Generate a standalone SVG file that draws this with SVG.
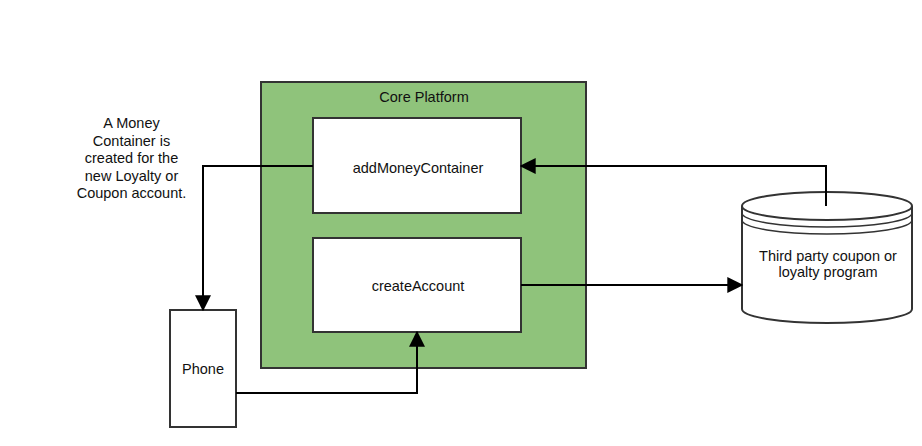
<svg xmlns="http://www.w3.org/2000/svg" width="922" height="446" viewBox="0 0 922 446">
<defs>
<style>
text{font-family:"Liberation Sans",Arial,sans-serif;font-size:14.5px;fill:#111;text-anchor:middle}
.box{fill:#fff;stroke:#333;stroke-width:2}
.edge{fill:none;stroke:#000;stroke-width:2}
</style>
<marker id="arrL" viewBox="0 0 12 12" refX="11" refY="6" markerWidth="16" markerHeight="16" orient="auto" markerUnits="userSpaceOnUse">
<path d="M0,0 L12,6 L0,12 z" fill="#000"/>
</marker>
</defs>
<rect width="922" height="446" fill="#fff"/>
<g id="core-platform">
<rect x="261" y="82" width="325" height="286" fill="#8fc37b" stroke="#333" stroke-width="2"/>
<text x="424" y="102">Core Platform</text>
</g>
<g id="addMoneyContainer">
<rect class="box" x="313" y="118" width="208" height="95"/>
<text x="418" y="173">addMoneyContainer</text>
</g>
<g id="createAccount">
<rect class="box" x="313" y="238" width="208" height="94"/>
<text x="418" y="291">createAccount</text>
</g>
<g id="phone">
<rect class="box" x="170" y="310" width="66" height="117"/>
<text x="203" y="374">Phone</text>
</g>
<g id="third-party">
<path d="M742,206 L742,309 A85,14 0 0 0 912,309 L912,206" fill="#fff" stroke="#333" stroke-width="2"/>
<ellipse cx="827" cy="206" rx="85" ry="14" fill="#fff" stroke="#333" stroke-width="2"/>
<path d="M742,213 A85,14 0 0 0 912,213" fill="none" stroke="#333" stroke-width="1.5"/>
<path d="M742,220 A85,14 0 0 0 912,220" fill="none" stroke="#333" stroke-width="1.5"/>
<text x="828" y="261">Third party coupon or</text>
<text x="828" y="277">loyalty program</text>
</g>
<g id="note">
<text x="131.5" y="128">A Money</text>
<text x="131.5" y="145.5">Container is</text>
<text x="131.5" y="163">created for the</text>
<text x="131.5" y="180.5">new Loyalty or</text>
<text x="131.5" y="198">Coupon account.</text>
</g>
<g id="connectors">
<path class="edge" d="M313,166 L203,166 L203,310" marker-end="url(#arrL)"/>
<path class="edge" d="M236,393 L417,393 L417,332" marker-end="url(#arrL)"/>
<path class="edge" d="M521,285 L742,285" marker-end="url(#arrL)"/>
<path class="edge" d="M826,206 L826,166 L521,166" marker-end="url(#arrL)"/>
</g>
</svg>
